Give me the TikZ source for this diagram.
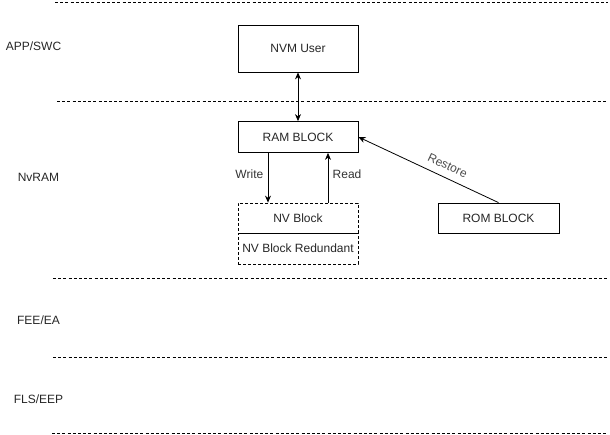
\documentclass[tikz,border=0pt]{standalone}
\usepackage{fontspec}
\setmainfont{Liberation Sans}
\usetikzlibrary{arrows.meta}

\tikzset{
    block/.style={draw, thick, minimum width=120pt, text=black!85,
        font=\fontsize{12}{14}\selectfont},
    nvblock/.style={block, densely dashed},
    layer/.style={text=black!85, font=\fontsize{12}{14}\selectfont},
    sep/.style={thick, dash pattern=on 3pt off 2.2pt},
    flow/.style={thick, -{Stealth[length=7pt,width=6pt]}},
    lbl/.style={text=black!80, font=\fontsize{12}{14}\selectfont},
}

\begin{document}
\begin{tikzpicture}[x=1pt, y=-1pt]
    \useasboundingbox (0, 0) rectangle (610, 435);

%%   layer separators
    \draw[sep] (55, 2)   -- (608, 2);
    \draw[sep] (57, 101) -- (608, 101);
    \draw[sep] (53, 278) -- (608, 278);
    \draw[sep] (53, 357) -- (608, 357);
    \draw[sep] (52, 433) -- (608, 433);

%%   kw   (name)   (x, y)   {text}
    \node[layer] (app)  at (33.5, 46)  {APP/SWC};
    \node[layer] (nvr)  at (38.5, 177) {NvRAM};
    \node[layer] (fee)  at (38.5, 320) {FEE/EA};
    \node[layer] (fls)  at (38.5, 399) {FLS/EEP};

    \node[block, minimum height=47pt]   (user) at (298, 48.5)  {NVM User};
    \node[block, minimum height=31pt]   (ram)  at (298, 137)   {RAM BLOCK};
    \node[nvblock, minimum height=30pt] (nv)   at (298, 218)   {NV Block};
    \node[nvblock, minimum height=31pt] (red)  at (298, 248.5) {NV Block Redundant};
    \node[block, minimum height=30pt, minimum width=121pt] (rom) at (498.5, 218) {ROM BLOCK};

    \draw[flow, {Stealth[length=7pt,width=6pt]}-{Stealth[length=7pt,width=6pt]}] (user) -- (ram);
    \draw[flow] ([xshift=-30pt]ram.south) -- node[lbl, pos=0.42, left=1pt] {Write} ([xshift=-30pt]nv.north);
    \draw[flow] ([xshift=30pt]nv.north) -- node[lbl, pos=0.58, right=1pt] {Read} ([xshift=30pt]ram.south);
    \draw[flow] (rom.north) -- node[lbl, text=black!70, pos=0.4, sloped, above=4pt] {Restore} (ram.east);
\end{tikzpicture}
\end{document}
